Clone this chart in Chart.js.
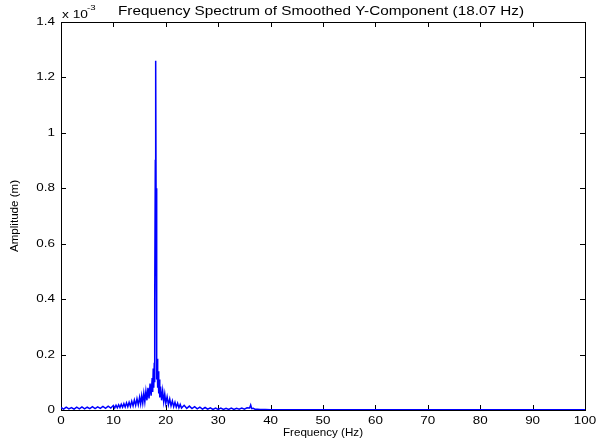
<!DOCTYPE html>
<html lang="en">
<head>
<meta charset="UTF-8">
<title>Frequency Spectrum</title>
<style>
  html, body { margin: 0; padding: 0; background: #fff; }
  #wrap { width: 602px; height: 444px; }
</style>
</head>
<body>
<div id="wrap"><canvas id="myChart" width="602" height="444"></canvas></div>
<script src="https://cdn.jsdelivr.net/npm/chart.js"></script>
<script>
// frequency (Hz) and amplitude (x 10^-3 m)
const freqs = [
  0, 0.5, 1, 1.5, 2, 2.5, 3, 3.5, 4, 4.5, 5, 5.5, 6, 6.5, 7, 7.5, 8, 8.5, 9, 9.5, 10,
  10.25, 10.5, 10.75, 11, 11.25, 11.5, 11.75, 12, 12.25, 12.5, 12.75, 13, 13.25, 13.5, 13.75, 14, 14.25, 14.5, 14.75, 15,
  15.2, 15.4, 15.6, 15.8, 16, 16.2, 16.4, 16.6, 16.8, 17, 17.2, 17.4,
  17.5, 17.6, 17.7, 17.8, 17.85, 17.92, 18.0, 18.07, 18.14, 18.22, 18.3, 18.36, 18.45, 18.55, 18.65, 18.75, 18.85,
  19.0, 19.2, 19.4, 19.6, 19.8, 20.0, 20.25, 20.5, 20.75, 21.0, 21.25, 21.5, 21.75, 22.0, 22.25, 22.5, 22.75,
  23, 23.5, 24, 24.5, 25, 25.5, 26, 26.5, 27, 27.5, 28, 28.5, 29, 29.5, 30, 30.5, 31, 31.5, 32, 32.5, 33, 33.5,
  34, 34.5, 35, 35.5, 36, 36.2, 36.4, 36.7, 37, 37.5, 38, 39, 40, 45, 50, 60, 70, 80, 90, 100
];
const amps = [
  0.009, 0.003, 0.010, 0.004, 0.009, 0.003, 0.010, 0.004, 0.011, 0.004, 0.010, 0.005, 0.012, 0.005, 0.011, 0.006, 0.013, 0.006, 0.014, 0.007, 0.016,
  0.007, 0.017, 0.008, 0.019, 0.009, 0.021, 0.010, 0.023, 0.011, 0.026, 0.012, 0.028, 0.013, 0.032, 0.015, 0.036, 0.017, 0.041, 0.019, 0.046,
  0.022, 0.052, 0.025, 0.060, 0.029, 0.068, 0.035, 0.080, 0.042, 0.095, 0.052, 0.115,
  0.065, 0.150, 0.080, 0.170, 0.100, 0.400, 0.900, 1.260, 0.800, 0.350, 0.110, 0.185, 0.080, 0.140, 0.060, 0.110, 0.045,
  0.085, 0.035, 0.070, 0.030, 0.058, 0.024, 0.048, 0.019, 0.040, 0.015, 0.033, 0.012, 0.028, 0.010, 0.024, 0.008, 0.020,
  0.007, 0.017, 0.006, 0.014, 0.005, 0.012, 0.004, 0.010, 0.003, 0.009, 0.003, 0.008, 0.002, 0.007, 0.002, 0.007, 0.002, 0.006, 0.002, 0.007, 0.002, 0.006,
  0.003, 0.007, 0.003, 0.008, 0.007, 0.018, 0.005, 0.006, 0.003, 0.003, 0.002, 0.0015, 0.001, 0.001, 0.0008, 0.0007, 0.0006, 0.0005, 0.0005, 0.0005
];
const xTicks = [0, 10, 20, 30, 40, 50, 60, 70, 80, 90, 100];
const xTickLabels = ['0', '10', '20', '30', '40', '50', '60', '70', '80', '90', '100'];
const yTicks = [0, 0.2, 0.4, 0.6, 0.8, 1, 1.2, 1.4];
const yTickLabels = ['0', '0.2', '0.4', '0.6', '0.8', '1', '1.2', '1.4'];

const titleText = 'Frequency Spectrum of Smoothed Y-Component (18.07 Hz)';
const FONT = '"Liberation Sans", Arial, Helvetica, sans-serif';

// text a little stretched sideways, like the saved figure
function wideText(ctx, str, x, y, sx) {
  ctx.save();
  ctx.translate(x, y);
  ctx.scale(sx, 1);
  ctx.fillText(str, 0, 0);
  ctx.restore();
}

// box and inward ticks, under the line
const matlabBox = {
  id: 'matlabBox',
  beforeDatasetsDraw(chart) {
    const { ctx, chartArea: a, scales } = chart;
    ctx.save();
    ctx.strokeStyle = '#000';
    ctx.lineWidth = 1;
    ctx.strokeRect(Math.round(a.left) + 0.5, Math.round(a.top) + 0.5,
      Math.round(a.right - a.left), Math.round(a.bottom - a.top));
    ctx.beginPath();
    xTicks.forEach(v => {
      const px = Math.round(scales.x.getPixelForValue(v)) + 0.5;
      ctx.moveTo(px, a.bottom); ctx.lineTo(px, a.bottom - 5);
      ctx.moveTo(px, a.top); ctx.lineTo(px, a.top + 5);
    });
    yTicks.forEach(v => {
      const py = Math.round(scales.y.getPixelForValue(v)) + 0.5;
      ctx.moveTo(a.left, py); ctx.lineTo(a.left + 5, py);
      ctx.moveTo(a.right, py); ctx.lineTo(a.right - 5, py);
    });
    ctx.stroke();
    ctx.restore();
  },
  afterDraw(chart) {
    const { ctx, chartArea: a, scales } = chart;
    ctx.save();
    ctx.fillStyle = '#000';
    ctx.font = '11px ' + FONT;
    ctx.textBaseline = 'middle';

    ctx.textAlign = 'center';
    xTicks.forEach((v, i) => {
      wideText(ctx, xTickLabels[i], scales.x.getPixelForValue(v), 421, 1.22);
    });
    ctx.textAlign = 'right';
    yTicks.forEach((v, i) => {
      wideText(ctx, yTickLabels[i], a.left - 6, scales.y.getPixelForValue(v), 1.22);
    });

    ctx.textAlign = 'center';
    ctx.font = '12px ' + FONT;
    const tw = ctx.measureText(titleText).width;
    wideText(ctx, titleText, 321, 12, 406 / tw);
    ctx.font = '11px ' + FONT;
    const fw = ctx.measureText('Frequency (Hz)').width;
    wideText(ctx, 'Frequency (Hz)', 323, 433, 80 / fw);

    ctx.textAlign = 'left';
    wideText(ctx, 'x 10', a.left + 1, 15, 1.25);
    ctx.font = '8px ' + FONT;
    wideText(ctx, '-3', a.left + 26, 8, 1.2);

    ctx.translate(15, (a.top + a.bottom) / 2);
    ctx.rotate(-Math.PI / 2);
    ctx.font = '11px ' + FONT;
    ctx.textAlign = 'center';
    const aw = ctx.measureText('Amplitude (m)').width;
    wideText(ctx, 'Amplitude (m)', 0, 0, 72 / aw);
    ctx.restore();
  }
};

const ctx = document.getElementById('myChart');

new Chart(ctx, {
  type: 'line',
  data: {
    datasets: [{
      data: freqs.map((f, i) => ({ x: f, y: amps[i] })),
      borderColor: '#0000ff',
      borderWidth: 1.5,
      pointRadius: 0,
      tension: 0,
      fill: false
    }]
  },
  options: {
    responsive: false,
    animation: false,
    events: [],
    layout: { padding: { top: 22, right: 17, left: 0, bottom: 0 } },
    plugins: { legend: { display: false }, tooltip: { enabled: false } },
    scales: {
      x: {
        type: 'linear',
        min: 0, max: 100,
        afterBuildTicks: s => { s.ticks = xTicks.map(v => ({ value: v })); },
        afterFit: s => { s.height = 34; },
        grid: { display: false, drawTicks: false },
        border: { display: false },
        ticks: { display: false }
      },
      y: {
        min: 0, max: 1.4,
        afterBuildTicks: s => { s.ticks = yTicks.map(v => ({ value: v })); },
        afterFit: s => { s.width = 61; },
        grid: { display: false, drawTicks: false },
        border: { display: false },
        ticks: { display: false }
      }
    }
  },
  plugins: [matlabBox]
});
</script>
</body>
</html>
